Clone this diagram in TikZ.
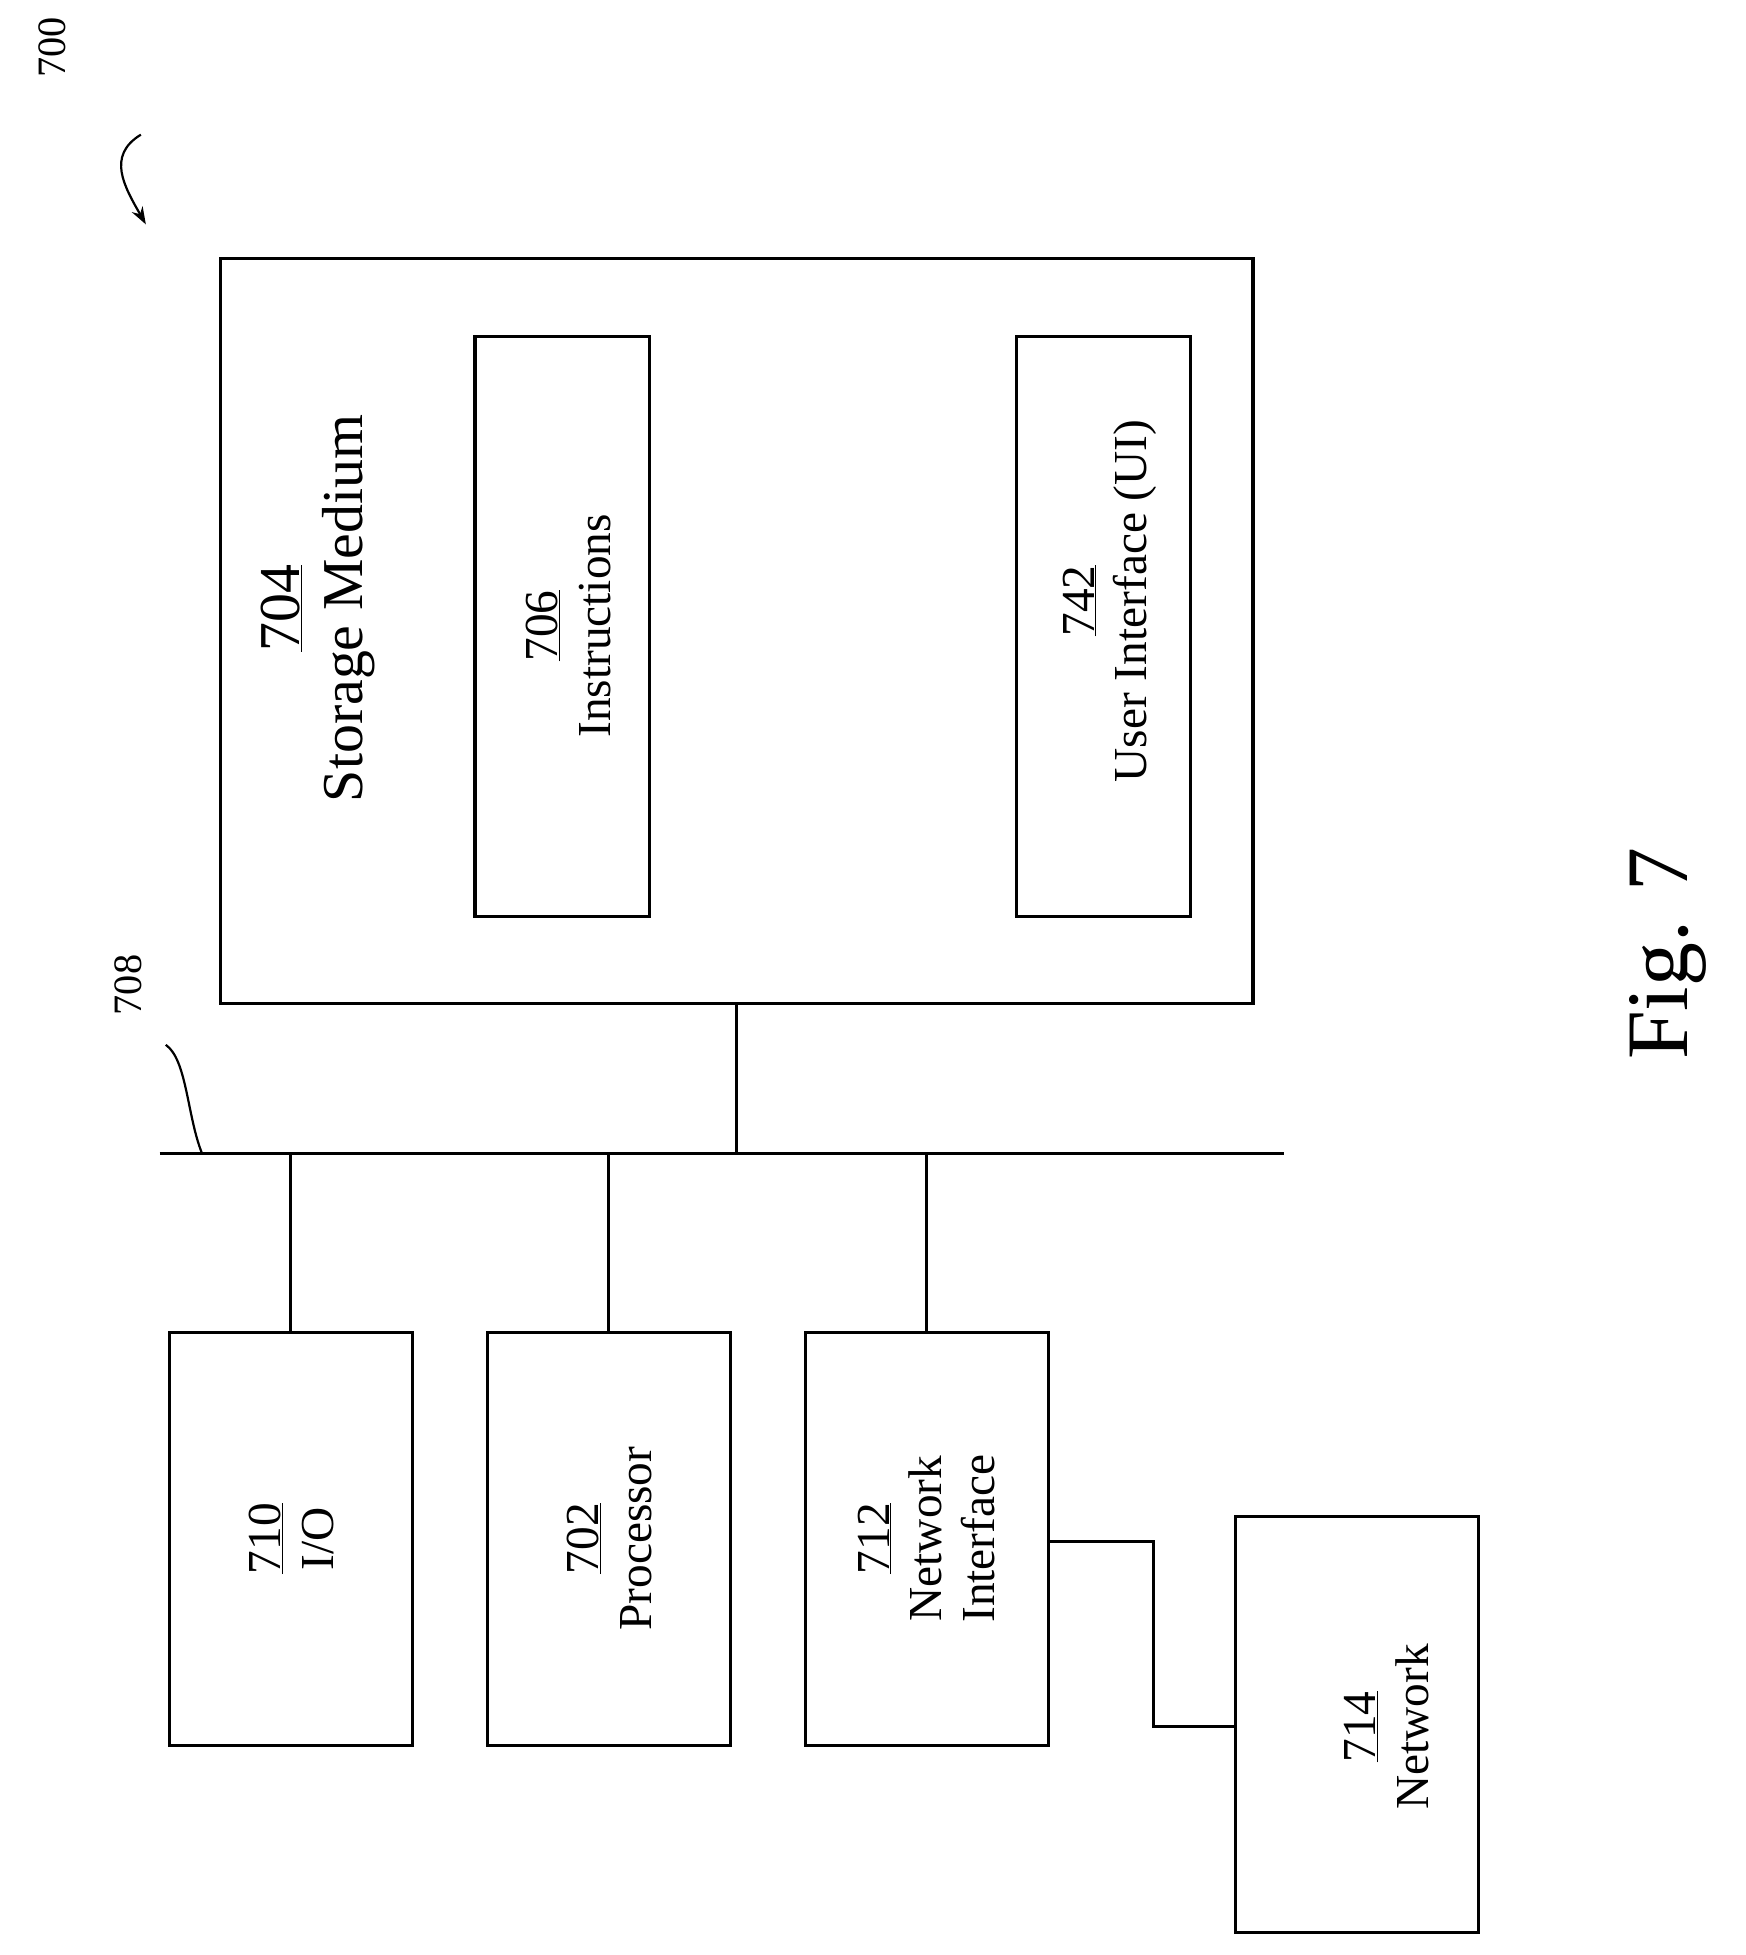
\documentclass[tikz,border=0pt]{standalone}
\usepackage{fontspec}
\usetikzlibrary{arrows.meta}
\setmainfont{Liberation Serif}
\begin{document}
\begin{tikzpicture}[x=0.05cm,y=-0.05cm,line width=3.6pt,
 box/.style={draw,line width=3.6pt},
 lbl/.style={rotate=90,align=center,font=\fontsize{54}{60}\selectfont},
 big/.style={rotate=90,align=center,font=\fontsize{66}{72}\selectfont}]
\useasboundingbox (0,0) rectangle (1400,1568);
\draw[box] (177,207) rectangle (1005,805);
\draw[box] (381,270) rectangle (521,735);
\draw[box] (815,270) rectangle (955,735);
\draw[box] (136,1069) rectangle (331,1400);
\draw[box] (391,1069) rectangle (586,1400);
\draw[box] (646,1069) rectangle (841,1400);
\draw[box] (991,1216) rectangle (1186,1550);
\node[big] (sm) at (255,488) {\underline{704}\\Storage Medium};
\node[lbl] (ins) at (456,502) {\underline{706}\\Instructions};
\node[lbl] (ui) at (890,482) {\underline{742}\\User Interface (UI)};
\node[lbl] (io) at (234,1234) {\underline{710}\\I/O};
\node[lbl] (pr) at (489,1234) {\underline{702}\\Processor};
\node[lbl] (ni) at (743,1234) {\underline{712}\\Network\\Interface};
\node[lbl] (nw) at (1112,1385) {\underline{714}\\Network};
\node[rotate=90,font=\fontsize{100}{110}\selectfont] (fig) at (1338,765) {Fig. 7};
\node[rotate=90,font=\fontsize{46}{50}\selectfont] (l700) at (42,38) {700};
\node[rotate=90,font=\fontsize{46}{50}\selectfont] (l708) at (103,790) {708};
\coordinate (bl) at (128,925); \coordinate (br) at (1030,925);
\draw (bl) -- (br);
\draw (591,805) -- (591,925);
\draw (233,925) -- (233,1069);
\draw (488,925) -- (488,1069);
\draw (743,925) -- (743,1069);
\draw (841,1236) -- (925,1236) -- (925,1385) -- (991,1385);
\draw[line width=2.5pt] (133,838) .. controls (150,850) and (150,895) .. (162,925);
\draw[line width=2.5pt,-{Stealth[length=20pt,width=14pt]}] (113,108) .. controls (85,125) and (100,150) .. (117,180);
\end{tikzpicture}
\end{document}
